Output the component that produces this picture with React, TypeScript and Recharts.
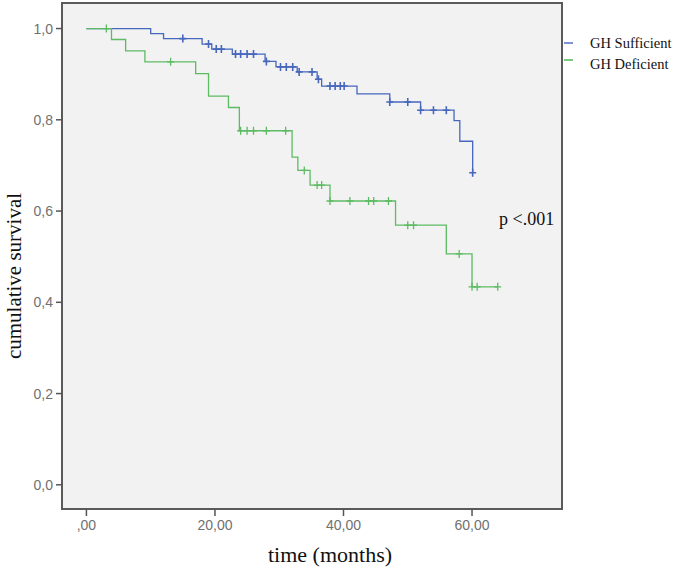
import React from 'react';
import { ComposedChart, Line, Scatter, XAxis, YAxis, ReferenceArea } from 'recharts';

// GH Sufficient (blue) step curve: event times and survival after each event
const blueEventTimes = [0, 10, 12, 18, 19.5, 22.7, 27.8, 29.5, 32.8, 35.9, 36.6, 42.1, 47.2, 52, 57.2, 58.1, 60.1];
const blueEventSurvival = [1, 0.989, 0.978, 0.966, 0.955, 0.944, 0.928, 0.916, 0.905, 0.889, 0.874, 0.857, 0.839, 0.821, 0.798, 0.753, 0.684];
// GH Sufficient censored marks
const blueCensorTimes = [15, 19, 20.2, 21, 23.2, 24, 25, 26, 28, 30.2, 31.1, 32.1, 33.1, 35.1, 36.1, 37.9, 38.7, 39.5, 40.1, 47.2, 50, 52, 54, 56, 60.1];
const blueCensorSurvival = [0.978, 0.966, 0.955, 0.955, 0.944, 0.944, 0.944, 0.944, 0.928, 0.916, 0.916, 0.916, 0.905, 0.905, 0.889, 0.874, 0.874, 0.874, 0.874, 0.839, 0.839, 0.821, 0.821, 0.821, 0.684];

// GH Deficient (green) step curve
const greenEventTimes = [0, 3.9, 6.1, 9.1, 17, 19, 22.1, 23.8, 32, 32.9, 34.8, 37.9, 48.1, 56, 60, 64];
const greenEventSurvival = [1, 0.976, 0.951, 0.927, 0.901, 0.852, 0.827, 0.776, 0.718, 0.689, 0.657, 0.622, 0.569, 0.506, 0.434, 0.434];
// GH Deficient censored marks
const greenCensorTimes = [3.1, 13.1, 24, 25, 26, 28, 31, 33.9, 35.9, 36.6, 37.9, 41, 43.9, 44.7, 47, 50, 50.9, 58, 60, 60.8, 64];
const greenCensorSurvival = [1, 0.927, 0.776, 0.776, 0.776, 0.776, 0.776, 0.689, 0.657, 0.657, 0.622, 0.622, 0.622, 0.622, 0.622, 0.569, 0.569, 0.506, 0.434, 0.434, 0.434];

const xTicks = [0, 20, 40, 60];
const yTicks = [0, 0.2, 0.4, 0.6, 0.8, 1.0];
const seriesNames = ['GH Sufficient', 'GH Deficient'];

const BLUE = '#4767bd';
const GREEN = '#5dbb63';

const zip = (ts: number[], ss: number[]) => ts.map((t, i) => ({ t, s: ss[i] }));
const blueCurve = zip(blueEventTimes, blueEventSurvival);
const greenCurve = zip(greenEventTimes, greenEventSurvival);
const blueCensor = zip(blueCensorTimes, blueCensorSurvival);
const greenCensor = zip(greenCensorTimes, greenCensorSurvival);

const plus = (color: string, w: number) => (props: any) => {
  const { cx, cy } = props;
  if (cx == null || cy == null) return <g />;
  return (
    <path
      d={`M${cx - 3.5},${cy}H${cx + 3.5}M${cx},${cy - 4}V${cy + 4}`}
      stroke={color}
      strokeWidth={w}
      fill="none"
    />
  );
};

const fmtX = (v: number) => (v === 0 ? ',00' : v.toFixed(2).replace('.', ','));
const fmtY = (v: number) => v.toFixed(1).replace('.', ',');

const tickStyle = { fill: '#707070', fontSize: 14, fontFamily: 'Liberation Sans, Arial, sans-serif' };
const serif = 'Liberation Serif, Times New Roman, serif';

export default function App() {
  return (
    <div style={{ position: 'absolute', left: 0, top: 0, width: 675, height: 568, background: '#fff' }}>
      <ComposedChart width={675} height={568} margin={{ top: 3, right: 113, left: 5, bottom: 29 }}>
        <XAxis
          type="number"
          dataKey="t"
          domain={[-3.8, 74]}
          ticks={xTicks}
          tickFormatter={fmtX}
          allowDataOverflow
          axisLine={false}
          tickLine={{ stroke: '#555', strokeWidth: 1.5 }}
          tickSize={7}
          tickMargin={4}
          tick={tickStyle}
          height={30}
        />
        <YAxis
          type="number"
          dataKey="s"
          domain={[-0.053, 1.056]}
          ticks={yTicks}
          tickFormatter={fmtY}
          allowDataOverflow
          axisLine={false}
          tickLine={{ stroke: '#555', strokeWidth: 1.5 }}
          tickSize={6}
          tickMargin={3}
          tick={tickStyle}
          width={57}
        />
        <ReferenceArea
          x1={-3.8}
          x2={74}
          y1={-0.053}
          y2={1.056}
          fill="#f2f2f2"
          fillOpacity={1}
          stroke="#5a5a5a"
          strokeWidth={2}
          ifOverflow="visible"
        />
        <Line data={blueCurve} dataKey="s" type="stepAfter" stroke={BLUE} strokeWidth={1.3} dot={false} isAnimationActive={false} name={seriesNames[0]} />
        <Line data={greenCurve} dataKey="s" type="stepAfter" stroke={GREEN} strokeWidth={1.3} dot={false} isAnimationActive={false} name={seriesNames[1]} />
        <Scatter data={blueCensor} dataKey="s" shape={plus(BLUE, 1.6)} isAnimationActive={false} />
        <Scatter data={greenCensor} dataKey="s" shape={plus(GREEN, 1.3)} isAnimationActive={false} />
      </ComposedChart>

      {/* Legend */}
      <div style={{ position: 'absolute', left: 564, top: 42, width: 9, height: 1.5, background: BLUE, opacity: 0.7 }} />
      <div style={{ position: 'absolute', left: 590, top: 34, fontFamily: serif, fontSize: 14.5, color: '#111', whiteSpace: 'nowrap', lineHeight: '18px' }}>
        {seriesNames[0]}
      </div>
      <div style={{ position: 'absolute', left: 564, top: 59, width: 9, height: 1.5, background: GREEN, opacity: 0.8 }} />
      <div style={{ position: 'absolute', left: 590, top: 55, fontFamily: serif, fontSize: 14.5, color: '#111', whiteSpace: 'nowrap', lineHeight: '18px' }}>
        {seriesNames[1]}
      </div>

      {/* p-value */}
      <div style={{ position: 'absolute', left: 499, top: 208, fontFamily: serif, fontSize: 18, color: '#111', whiteSpace: 'nowrap', lineHeight: '22px' }}>
        p &lt;.001
      </div>

      {/* Axis titles */}
      <div style={{ position: 'absolute', left: 330, top: 555, transform: 'translate(-50%, -50%)', fontFamily: serif, fontSize: 22, color: '#111', whiteSpace: 'nowrap' }}>
        time (months)
      </div>
      <div style={{ position: 'absolute', left: 14, top: 276, transform: 'translate(-50%, -50%) rotate(-90deg)', fontFamily: serif, fontSize: 21, color: '#111', whiteSpace: 'nowrap' }}>
        cumulative survival
      </div>
    </div>
  );
}
